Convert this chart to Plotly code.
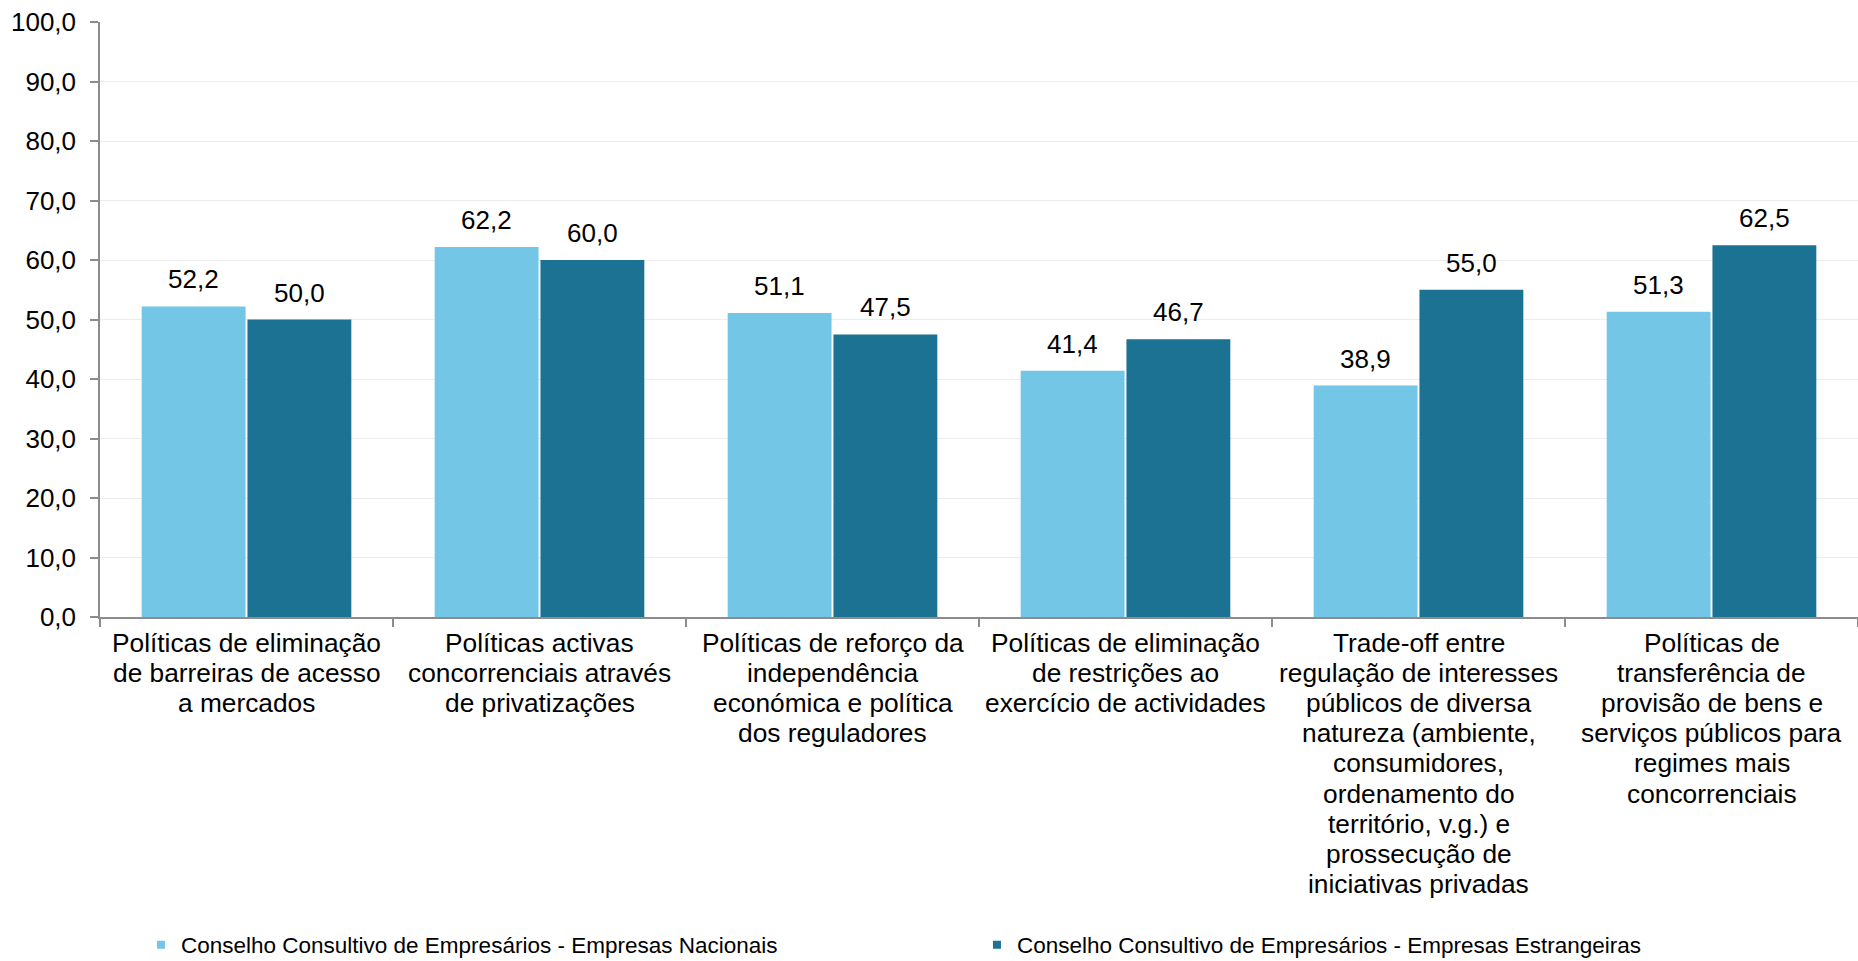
import plotly.graph_objects as go

categories = [
    "Políticas de eliminação<br>de barreiras de acesso<br>a mercados",
    "Políticas activas<br>concorrenciais através<br>de privatizações",
    "Políticas de reforço da<br>independência<br>económica e política<br>dos reguladores",
    "Políticas de eliminação<br>de restrições ao<br>exercício de actividades",
    "Trade-off entre<br>regulação de interesses<br>públicos de diversa<br>natureza (ambiente,<br>consumidores,<br>ordenamento do<br>território, v.g.) e<br>prossecução de<br>iniciativas privadas",
    "Políticas de<br>transferência de<br>provisão de bens e<br>serviços públicos para<br>regimes mais<br>concorrenciais",
]
series_names = [
    "Conselho Consultivo de Empresários - Empresas Nacionais",
    "Conselho Consultivo de Empresários - Empresas Estrangeiras",
]
nacionais = [52.2, 62.2, 51.1, 41.4, 38.9, 51.3]
estrangeiras = [50.0, 60.0, 47.5, 46.7, 55.0, 62.5]
colors = ["#73C6E5", "#1B7293"]

FONT = "Liberation Sans, Arial, sans-serif"
AXIS = "#8C8C8C"
LABEL_SIZE = 26
CAT_SIZE = 26.3
LINE_H = 30.2
SLOT_SHIFT = 52.9  # half group slot, px

fig = go.Figure()
for name, vals, col in zip(series_names, [nacionais, estrangeiras], colors):
    fig.add_trace(go.Bar(
        x=categories, y=vals, name=name, showlegend=False,
        marker=dict(color=col, line=dict(width=0)),
        hoverinfo="x+y",
    ))
    # legend entry with a small square symbol
    fig.add_trace(go.Scatter(
        x=[None], y=[None], mode="markers", name=name,
        marker=dict(symbol="square", size=8, color=col),
    ))

annotations = []
# data labels above each bar
for k, vals in enumerate([nacionais, estrangeiras]):
    shift = -SLOT_SHIFT if k == 0 else SLOT_SHIFT
    for cat, v in zip(categories, vals):
        annotations.append(dict(
            x=cat, y=v, xref="x", yref="y", xshift=shift, yshift=27,
            text=f"{v:.1f}".replace(".", ","), showarrow=False,
            xanchor="center", yanchor="middle",
            font=dict(size=LABEL_SIZE, family=FONT, color="#000000"),
        ))
# category labels, one annotation per line for Excel-like line spacing
for cat in categories:
    for i, line in enumerate(cat.split("<br>")):
        annotations.append(dict(
            x=cat, y=0, xref="x", yref="paper", yshift=-(25.5 + i * LINE_H),
            text=line, showarrow=False, xanchor="center", yanchor="middle",
            font=dict(size=CAT_SIZE, family=FONT, color="#000000"),
        ))

fig.update_layout(
    width=1858, height=961,
    margin=dict(l=100, r=0, t=22, b=344, autoexpand=False),
    paper_bgcolor="white", plot_bgcolor="white",
    separators=",.",
    barmode="group", bargap=0.278, bargroupgap=0.018,
    font=dict(family=FONT, color="#000000"),
    legend=dict(
        orientation="h", x=0.0233, xanchor="left", y=-0.5513, yanchor="middle",
        font=dict(size=22.5, family=FONT), entrywidth=791, entrywidthmode="pixels",
        itemwidth=30, bgcolor="rgba(0,0,0,0)",
    ),
    annotations=annotations,
)
fig.update_yaxes(
    range=[0, 100], dtick=10, tickformat=".1f",
    showgrid=True, gridcolor="#EDEDED", gridwidth=1,
    showline=True, linecolor=AXIS, linewidth=1.5,
    ticks="outside", ticklen=8, tickcolor=AXIS, tickwidth=1.5,
    tickfont=dict(size=LABEL_SIZE, family=FONT), zeroline=False,
    ticklabelstandoff=9,
)
fig.update_xaxes(
    showline=True, linecolor=AXIS, linewidth=1.5,
    ticks="outside", ticklen=8, tickcolor=AXIS, tickwidth=1.5,
    tickson="boundaries", showticklabels=False,
)
fig.write_html(
    "out.html",
    config={"displayModeBar": False},
    post_script="document.body.style.margin='0';document.body.style.overflow='hidden';",
)
